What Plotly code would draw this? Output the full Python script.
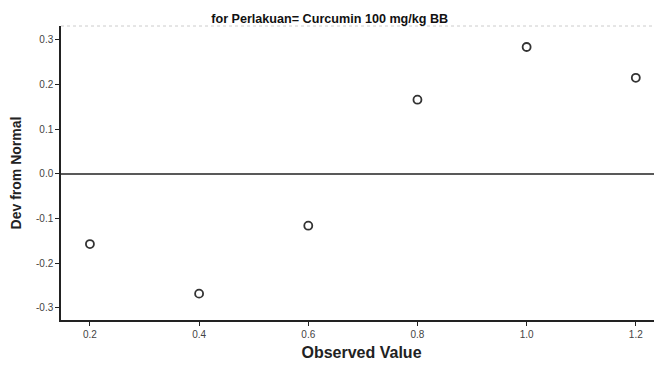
import plotly.graph_objects as go

observed = [0.2, 0.4, 0.6, 0.8, 1.0, 1.2]
dev_from_normal = [-0.157, -0.268, -0.116, 0.166, 0.284, 0.215]
x_ticks = [0.2, 0.4, 0.6, 0.8, 1.0, 1.2]
x_tick_labels = ["0.2", "0.4", "0.6", "0.8", "1.0", "1.2"]
y_ticks = [-0.3, -0.2, -0.1, 0.0, 0.1, 0.2, 0.3]
y_tick_labels = ["-0.3", "-0.2", "-0.1", "0.0", "0.1", "0.2", "0.3"]

fig = go.Figure()
fig.add_trace(go.Scatter(
    x=observed, y=dev_from_normal, mode="markers",
    marker=dict(symbol="circle-open", size=8, color="#333333", line=dict(width=1.8)),
    showlegend=False,
))
fig.add_hline(y=0, line=dict(color="#222222", width=1.5))
fig.add_shape(type="line", xref="paper", yref="paper", x0=0, x1=1, y0=1, y1=1,
              line=dict(color="#cccccc", width=1, dash="dot"))

fig.update_layout(
    width=662, height=366,
    margin=dict(l=53, r=8, t=18, b=54),
    paper_bgcolor="white", plot_bgcolor="white",
    font=dict(family="Arial, Liberation Sans, sans-serif", color="#222222"),
    title=dict(text="<b>for Perlakuan= Curcumin 100 mg/kg BB</b>", x=0.486, xanchor="center",
               y=0.972, yanchor="middle", font=dict(size=12.6, color="#111111")),
    xaxis=dict(
        range=[0.147, 1.248], tickvals=x_ticks, ticktext=x_tick_labels, automargin=False,
        showgrid=False, zeroline=False, showline=True, linecolor="#222222", linewidth=1.5,
        ticks="outside", ticklen=4, tickcolor="#222222",
        tickfont=dict(size=10, color="#444444"),
        title=dict(text="<b>Observed Value</b>", font=dict(size=16, color="#222222"), standoff=8),
    ),
    yaxis=dict(
        range=[-0.327, 0.331], tickvals=y_ticks, ticktext=y_tick_labels, automargin=False,
        showgrid=False, zeroline=False, showline=True, linecolor="#222222", linewidth=1.5,
        ticks="outside", ticklen=4, tickcolor="#222222",
        tickfont=dict(size=10, color="#444444"),
        title=dict(text="<b>Dev from Normal</b>", font=dict(size=14, color="#222222"), standoff=14),
    ),
)

fig.write_html("out.html")
